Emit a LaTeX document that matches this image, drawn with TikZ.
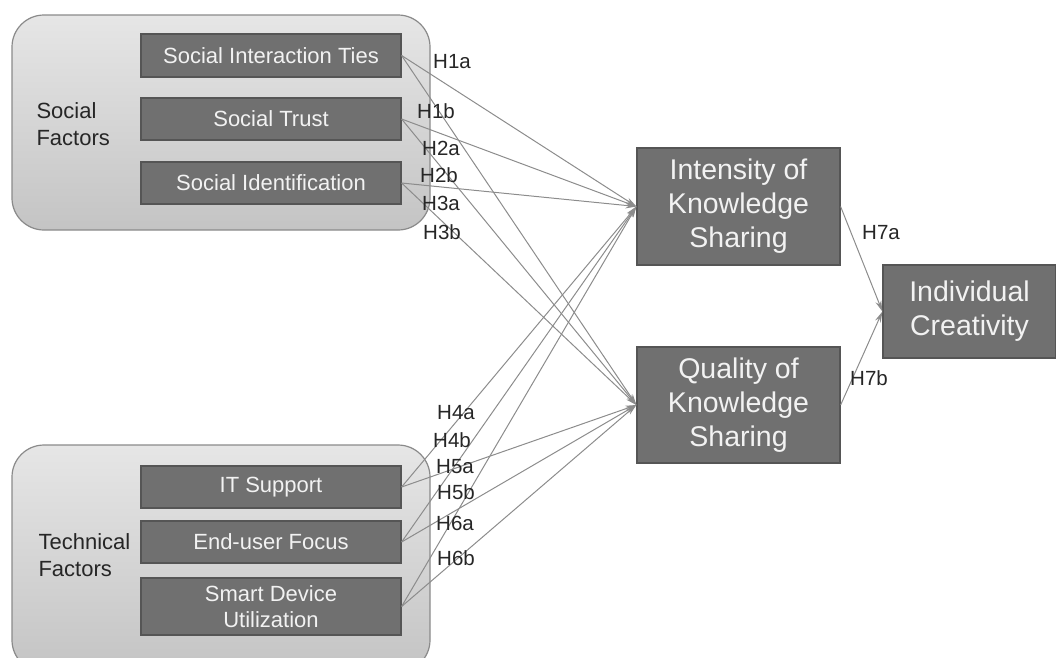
\documentclass[tikz,border=0pt]{standalone}
\usepackage{fontspec}
\setmainfont{Liberation Sans}
\usetikzlibrary{arrows.meta}
\definecolor{boxfill}{HTML}{707070}
\definecolor{boxline}{HTML}{555555}
\definecolor{txtw}{HTML}{F2F2F2}
\definecolor{grptop}{HTML}{E6E6E6}
\definecolor{grpbot}{HTML}{C4C4C4}
\definecolor{grpline}{HTML}{8A8A8A}
\definecolor{arrc}{HTML}{8C8C8C}
\begin{document}
\begin{tikzpicture}[x=1pt,y=-1pt,
  group/.style={draw=grpline,line width=1.2pt,rounded corners=32pt,top color=grptop,bottom color=grpbot},
  inbox/.style={draw=boxline,line width=1.2pt,fill=boxfill,text=txtw,minimum width=260pt,inner sep=0pt,align=center,font=\fontsize{22}{26}\selectfont},
  bigbox/.style={draw=boxline,line width=1.2pt,fill=boxfill,text=txtw,inner sep=0pt,align=center,font=\fontsize{28.5}{34}\selectfont},
  grplab/.style={align=left,anchor=west,font=\fontsize{22}{27}\selectfont,text=black!85},
  hlab/.style={font=\fontsize{20.5}{22}\selectfont,text=black!85,inner sep=0pt},
  conn/.style={draw=arrc,line width=1pt,-{Stealth[length=11pt,width=6pt]}}]
\useasboundingbox (0,0) rectangle (1056,657);
\clip (0,0) rectangle (1056,657);
% groups
\path[group] (12,15) rectangle (430,230);
\path[group] (12,445) rectangle (430,672);
\node[grplab] (sf) at (33,124) {Social\\Factors};
\node[grplab] (tf) at (35,555) {Technical\\Factors};
% inner boxes
\node[inbox,minimum height=43pt] (sit) at (271,55.5) {Social Interaction Ties};
\node[inbox,minimum height=42pt] (st) at (271,119) {Social Trust};
\node[inbox,minimum height=42pt] (si) at (271,183) {Social Identification};
\node[inbox,minimum height=42pt] (its) at (271,487) {IT Support};
\node[inbox,minimum height=42pt] (euf) at (271,542) {End-user Focus};
\node[inbox,minimum height=57pt] (sdu) at (271,606.5) {Smart Device\\Utilization};
% outcome boxes
\node[bigbox,minimum width=203pt,minimum height=117pt] (iks) at (738.5,206.5) {Intensity of\\Knowledge\\Sharing};
\node[bigbox,minimum width=203pt,minimum height=116pt] (qks) at (738.5,405) {Quality of\\Knowledge\\Sharing};
\node[bigbox,minimum width=173pt,minimum height=93pt] (ic) at (969.5,311.5) {Individual\\Creativity};
% connectors
\foreach \s in {sit,st,si,its,euf,sdu}{
  \draw[conn] (\s.east) -- (iks.west);
  \draw[conn] (\s.east) -- (qks.west);
}
\draw[conn] (iks.east) -- (ic.west);
\draw[conn] (qks.east) -- (ic.west);
% labels
\node[hlab] (h1a) at (452,62) {H1a};
\node[hlab] (h1b) at (436,111) {H1b};
\node[hlab] (h2a) at (441,148) {H2a};
\node[hlab] (h2b) at (439,175) {H2b};
\node[hlab] (h3a) at (441,203) {H3a};
\node[hlab] (h3b) at (442,232) {H3b};
\node[hlab] (h4a) at (456,413) {H4a};
\node[hlab] (h4b) at (452,440) {H4b};
\node[hlab] (h5a) at (455,467) {H5a};
\node[hlab] (h5b) at (456,492) {H5b};
\node[hlab] (h6a) at (455,523) {H6a};
\node[hlab] (h6b) at (456,558) {H6b};
\node[hlab] (h7a) at (881,233) {H7a};
\node[hlab] (h7b) at (869,378) {H7b};
\end{tikzpicture}
\end{document}
